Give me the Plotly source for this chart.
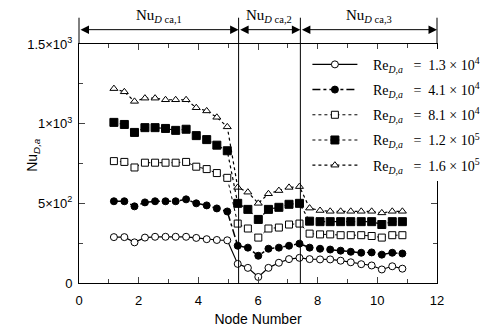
import plotly.graph_objects as go

# Node positions (x)
node_x = [1.17, 1.52, 1.86, 2.21, 2.55, 2.90, 3.24, 3.59, 3.93, 4.28, 4.62, 4.97,
          5.32, 5.66, 6.01, 6.35, 6.70, 7.04, 7.39,
          7.73, 8.08, 8.42, 8.77, 9.11, 9.46, 9.81, 10.15, 10.50, 10.84]

nu_re13e4 = [288, 288, 255, 285, 290, 290, 290, 290, 283, 275, 270, 268,
             120, 95, 38, 95, 127, 150, 158,
             150, 148, 148, 140, 130, 118, 110, 85, 105, 90]
nu_re41e4 = [513, 513, 481, 506, 513, 513, 513, 525, 500, 487, 468, 449,
             234, 222, 171, 215, 222, 234, 247,
             222, 215, 210, 203, 196, 190, 192, 178, 190, 185]
nu_re81e4 = [765, 760, 725, 755, 755, 755, 755, 760, 730, 715, 690, 660,
             373, 342, 285, 342, 348, 367, 373,
             310, 305, 305, 300, 300, 300, 295, 285, 300, 300]
nu_re12e5 = [1008, 995, 945, 975, 975, 970, 958, 965, 925, 900, 865, 830,
             500, 462, 399, 462, 475, 494, 500,
             388, 385, 385, 385, 385, 385, 385, 367, 385, 385]
nu_re16e5 = [1220, 1200, 1140, 1160, 1160, 1150, 1150, 1150, 1100, 1080, 1040, 980,
             600, 570, 500, 560, 580, 600, 605,
             470, 455, 450, 450, 450, 450, 450, 440, 450, 450]

series_names = ["   Re<sub><i>D,a</i></sub>   =  1.3 × 10<sup>4</sup>",
                "   Re<sub><i>D,a</i></sub>   =  4.1 × 10<sup>4</sup>",
                "   Re<sub><i>D,a</i></sub>   =  8.1 × 10<sup>4</sup>",
                "   Re<sub><i>D,a</i></sub>   =  1.2 × 10<sup>5</sup>",
                "   Re<sub><i>D,a</i></sub>   =  1.6 × 10<sup>5</sup>"]

region_bounds = [0, 5.35, 7.42, 12]
region_labels = ["Nu<sub><i>D</i> ca,1</sub>", "Nu<sub><i>D</i> ca,2</sub>", "Nu<sub><i>D</i> ca,3</sub>"]

x_range = [0, 12]
y_range = [0, 1500]
y_tickvals = [0, 500, 1000, 1500]
y_ticktext = ["0", "5×10<sup>2</sup>", "1×10<sup>3</sup>", "1.5×10<sup>3</sup>"]
x_tickvals = [0, 2, 4, 6, 8, 10, 12]

styles = [
    dict(line=dict(color="black", width=1.2, dash="solid"),
         marker=dict(symbol="circle", size=7, color="white", line=dict(color="black", width=1))),
    dict(line=dict(color="black", width=1.5, dash="8px,3px,3px,3px"),
         marker=dict(symbol="circle", size=7, color="black", line=dict(color="black", width=1))),
    dict(line=dict(color="black", width=1, dash="dot"),
         marker=dict(symbol="square", size=7, color="white", line=dict(color="black", width=1))),
    dict(line=dict(color="black", width=1.2, dash="dot"),
         marker=dict(symbol="square", size=8, color="black", line=dict(color="black", width=1))),
    dict(line=dict(color="black", width=1.2, dash="dot"),
         marker=dict(symbol="triangle-up", size=7, color="white", line=dict(color="black", width=1))),
]

fig = go.Figure()
for i, (ys, name) in enumerate(zip([nu_re13e4, nu_re41e4, nu_re81e4, nu_re12e5, nu_re16e5], series_names)):
    fig.add_trace(go.Scatter(x=node_x, y=ys, mode="lines+markers", name=name,
                             legendgroup=f"g{i}", cliponaxis=False, **styles[i]))

shapes = []
# boundary vertical lines through plot and above
for b in region_bounds:
    pf = (b - x_range[0]) / (x_range[1] - x_range[0])
    y0 = 1.0 if b in (x_range[0], x_range[1]) else 0.0
    shapes.append(dict(type="line", xref="paper", yref="paper", x0=pf, x1=pf, y0=y0, y1=1.11,
                       line=dict(color="black", width=1), layer="above"))

annotations = []
for k in range(3):
    a, b = region_bounds[k], region_bounds[k + 1]
    annotations.append(dict(x=b, y=1.06, xref="x", yref="paper", ax=a, ay=0,
                            axref="x", ayref="pixel", text="", showarrow=True,
                            arrowhead=2, startarrowhead=2, arrowside="end+start",
                            arrowsize=1.7, startarrowsize=1.7, arrowwidth=1, arrowcolor="black"))
    annotations.append(dict(x=(a + b) / 2, y=1.07, xref="x", yref="paper", text=region_labels[k],
                            showarrow=False, yanchor="bottom",
                            font=dict(family="Liberation Serif", size=15, color="black")))

annotations.append(dict(x=-0.16, y=0.535, xref="paper", yref="paper", text="Nu<sub><i>D,a</i></sub>",
                        textangle=-90, showarrow=False,
                        font=dict(family="Liberation Sans", size=14, color="black")))

fig.update_layout(
    width=485, height=327,
    margin=dict(l=79, r=48, t=44, b=44, autoexpand=False),
    plot_bgcolor="white", paper_bgcolor="white",
    shapes=shapes, annotations=annotations,
    showlegend=True,
    legend=dict(x=0.638, y=0.98, xanchor="left", yanchor="top", bgcolor="white",
                font=dict(family="Liberation Serif", size=14, color="black"),
                tracegroupgap=4, itemwidth=45, traceorder="grouped"),
    xaxis=dict(range=x_range, tickvals=x_tickvals, ticks="inside", ticklen=6,
               showline=True, linecolor="black", linewidth=1, mirror="allticks",
               showgrid=False, zeroline=False, ticklabelstandoff=5, automargin=False,
               minor=dict(dtick=1, ticks="inside", ticklen=4, showgrid=False),
               tickfont=dict(family="Liberation Sans", size=13, color="black"),
               title=dict(text="Node Number", standoff=14,
                          font=dict(family="Liberation Sans", size=14, color="black"))),
    yaxis=dict(range=y_range, tickvals=y_tickvals, ticktext=y_ticktext, ticks="inside", ticklen=6,
               showline=True, linecolor="black", linewidth=1, mirror="allticks",
               showgrid=False, zeroline=False, ticklabelstandoff=3, automargin=False,
               minor=dict(dtick=250, ticks="inside", ticklen=4, showgrid=False),
               tickfont=dict(family="Liberation Sans", size=13, color="black")),
)

fig.write_html("out.html")
